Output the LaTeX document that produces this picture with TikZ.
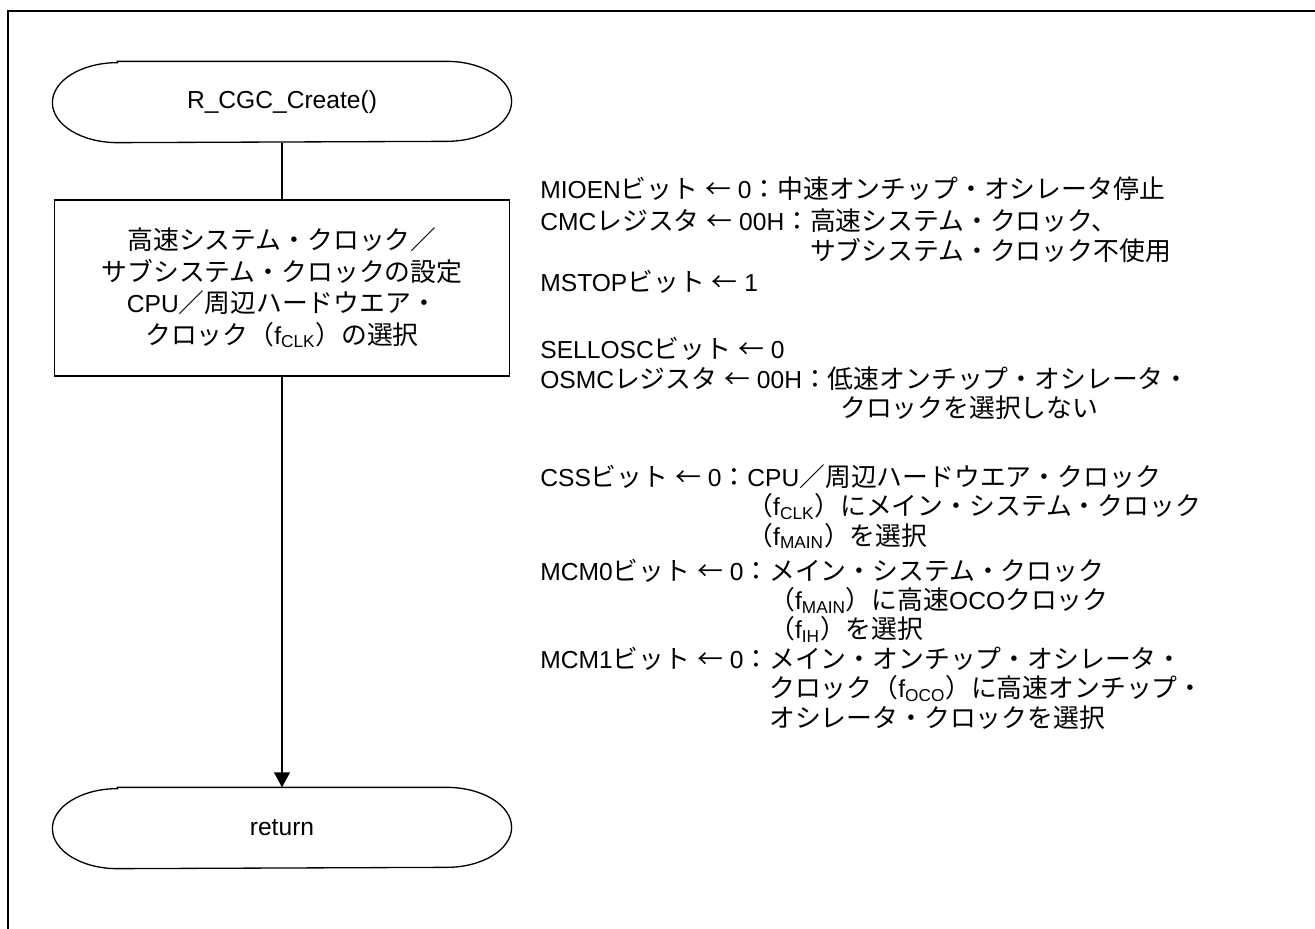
\documentclass[tikz,border=0pt]{standalone}
\usepackage{fontspec}
\setmainfont{Liberation Sans}
\newfontfamily\jp[Scale=1.05]{Noto Sans CJK JP}
\newcommand{\J}[1]{{\jp #1}}
\usetikzlibrary{calc,arrows.meta}

% terminal outline: straight top and bottom, half ellipses at both ends
\newcommand{\termline}[1]{%
  \draw[flow] ($(#1.north west)+(65,0)$) -- ($(#1.north east)+(-65,0)$)
    arc[start angle=90, end angle=-90, x radius=65, y radius=40]
    -- ($(#1.south west)+(65,0)$)
    arc[start angle=270, end angle=90, x radius=65, y radius=40] -- cycle;}

\begin{document}
\begin{tikzpicture}[x=0.02cm, y=0.02cm,
    flow/.style={line width=0.75pt},
    frame/.style={line width=1.2pt},
    txt/.style={anchor=base west, inner sep=0pt,
      font=\fontsize{14pt}{16.7pt}\selectfont}]

  \useasboundingbox (0,0) rectangle (1315,-929);
  \draw[frame] (1315,-11) -- (8,-11) -- (8,-929);

  \begin{scope}[every node/.style={flow, inner sep=0pt,
      font=\fontsize{14pt}{17.9pt}\selectfont}]
    \node[minimum width=9.16cm, minimum height=1.6cm] (start) at (282,-102) {R\_CGC\_Create()};
    \node[draw, minimum width=9.1cm, minimum height=3.52cm, align=center] (init) at (282,-288)
      {\J{高速システム・クロック／}\\
       \J{サブシステム・クロックの設定}\\
       CPU\J{／周辺ハードウエア・}\\
       \J{クロック（}f\textsubscript{CLK}\J{）の選択}};
    \node[minimum width=9.16cm, minimum height=1.6cm] (ret) at (282,-828) {return};
  \end{scope}

  \termline{start}
  \termline{ret}
  \draw[flow] (start) -- (init);
  \draw[flow, -{Triangle[length=8.5pt, width=9pt]}] (init) -- (ret);

  % register settings
  \node[txt] (mioen) at (540,-198.5)
    {MIOEN\J{ビット} \J{←} 0\J{：中速オンチップ・オシレータ停止}};
  \node[txt] (cmc) at (540,-231)
    {CMC\J{レジスタ} \J{←} 00H\J{：}\vtop{\hbox{\J{高速システム・クロック、}}
      \hbox{\J{サブシステム・クロック不使用}}}};
  \node[txt] (mstop) at (540,-291.5) {MSTOP\J{ビット} \J{←} 1};

  \node[txt] (sellosc) at (540,-358) {SELLOSC\J{ビット} \J{←} 0};
  \node[txt] (osmc) at (540,-388.5)
    {OSMC\J{レジスタ} \J{←} 00H\J{：}\vtop{\hbox{\J{低速オンチップ・オシレータ・}}
      \hbox{\hspace{0.5em}\J{クロックを選択しない}}}};

  \node[txt] (css) at (540,-486.5)
    {CSS\J{ビット} \J{←} 0\J{：}\vtop{\hbox{CPU\J{／周辺ハードウエア・クロック}}
      \hbox{\J{（}f\textsubscript{CLK}\J{）にメイン・システム・クロック}}
      \hbox{\J{（}f\textsubscript{MAIN}\J{）を選択}}}};
  \node[txt] (mcm0) at (540,-580)
    {MCM0\J{ビット} \J{←} 0\J{：}\vtop{\hbox{\J{メイン・システム・クロック}}
      \hbox{\J{（}f\textsubscript{MAIN}\J{）に高速}OCO\J{クロック}}
      \hbox{\J{（}f\textsubscript{IH}\J{）を選択}}}};
  \node[txt] (mcm1) at (540,-668.5)
    {MCM1\J{ビット} \J{←} 0\J{：}\vtop{\hbox{\J{メイン・オンチップ・オシレータ・}}
      \hbox{\J{クロック（}f\textsubscript{OCO}\J{）に高速オンチップ・}}
      \hbox{\J{オシレータ・クロックを選択}}}};

\end{tikzpicture}
\end{document}
